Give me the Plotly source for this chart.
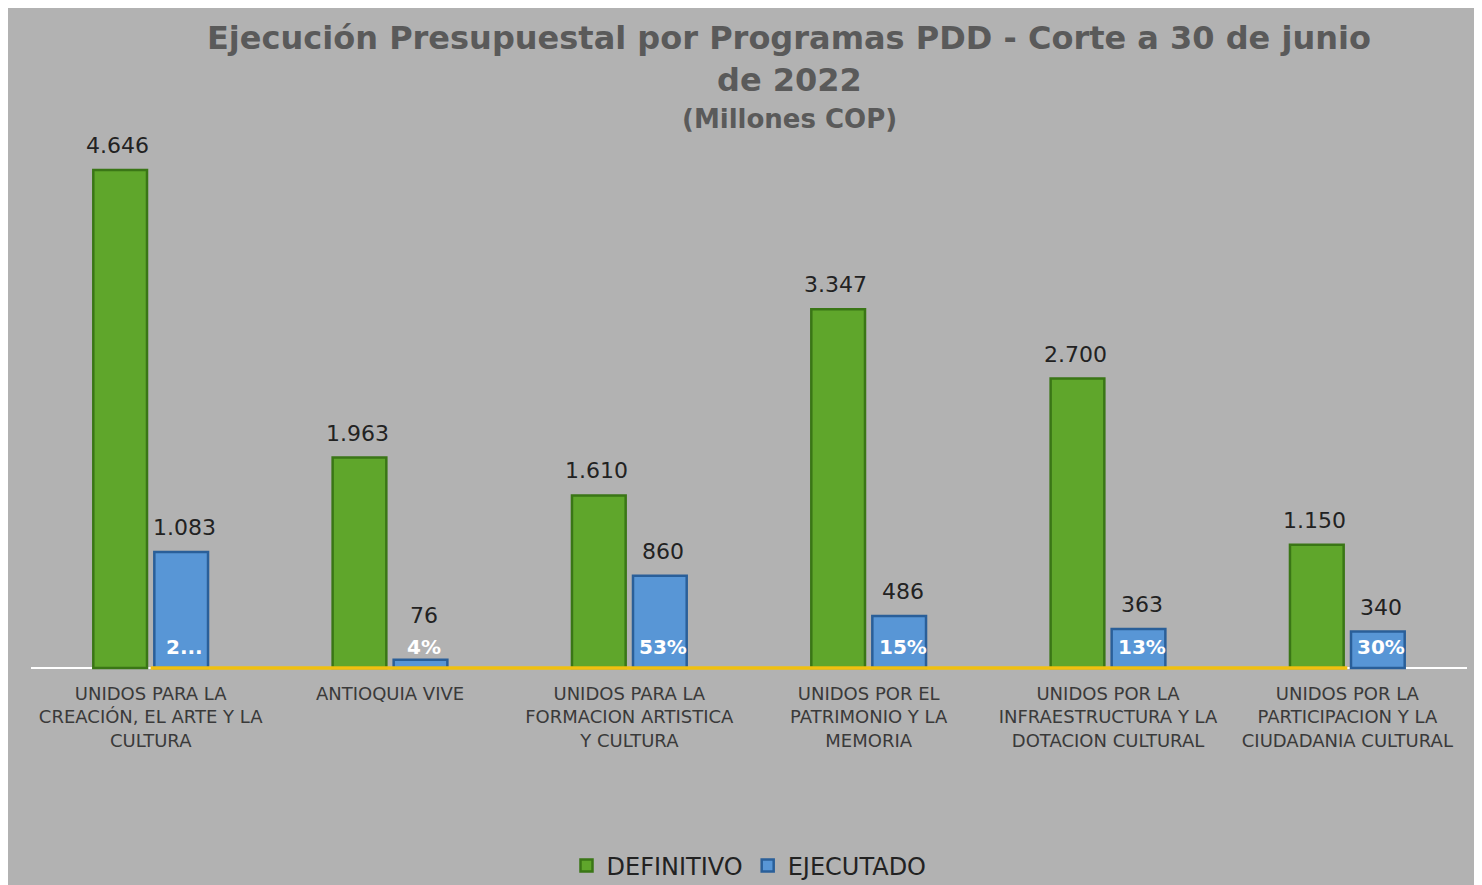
import plotly.graph_objects as go

# Datos (millones COP)
programas = [
    "UNIDOS PARA LA<br>CREACIÓN, EL ARTE Y LA<br>CULTURA",
    "ANTIOQUIA VIVE",
    "UNIDOS PARA LA<br>FORMACION ARTISTICA<br>Y CULTURA",
    "UNIDOS POR EL<br>PATRIMONIO Y LA<br>MEMORIA",
    "UNIDOS POR LA<br>INFRAESTRUCTURA Y LA<br>DOTACION CULTURAL",
    "UNIDOS POR LA<br>PARTICIPACION Y LA<br>CIUDADANIA CULTURAL",
]
definitivo = [4646, 1963, 1610, 3347, 2700, 1150]
ejecutado = [1083, 76, 860, 486, 363, 340]
pct_ejecucion = [0.23, 0.04, 0.53, 0.15, 0.13, 0.30]
pct_labels = ["2...", "4%", "53%", "15%", "13%", "30%"]

BG = "#b2b2b2"
GREEN = "#5fa62b"
GREEN_EDGE = "#3a7616"
BLUE = "#5896d6"
BLUE_EDGE = "#2a5f99"
FONT = "DejaVu Sans"

# plot area in pixels (page adds an 8px body margin)
W, H = 1482, 885
L, R, T, B = 23, 23, 132, 222
PW, PH = W - L - R, H - T - B
YMIN, YMAX = -28, 4925
PX_PER_UNIT = PH / (YMAX - YMIN)


def ypaper(py):
    return (H - B - py) / PH


fig = go.Figure()

fig.add_trace(go.Bar(
    name="DEFINITIVO",
    x=programas,
    y=definitivo,
    marker=dict(color=GREEN, line=dict(color=GREEN_EDGE, width=2.5)),
))
fig.add_trace(go.Bar(
    name="EJECUTADO",
    x=programas,
    y=ejecutado,
    marker=dict(color=BLUE, line=dict(color=BLUE_EDGE, width=2.5)),
))
# % de ejecución (queda pegado al eje)
fig.add_trace(go.Scatter(
    x=programas,
    y=pct_ejecucion,
    mode="lines",
    line=dict(color="#f0c010", width=3.5),
    showlegend=False,
    hoverinfo="skip",
))

annotations = []
for prog, d, e, lab in zip(programas, definitivo, ejecutado, pct_labels):
    for val, dx in ((d, -33), (e, 34)):
        lift = max(10, 38 - val * PX_PER_UNIT)
        annotations.append(dict(
            x=prog, y=val, xref="x", yref="y", text=f"{val:,}".replace(",", "."),
            xshift=dx, yshift=lift, yanchor="bottom", showarrow=False,
            font=dict(size=22, color="#222222", family=FONT),
        ))
    annotations.append(dict(
        x=prog, y=0, xref="x", yref="y", text=f"<b>{lab}</b>",
        xshift=34, yshift=7, yanchor="bottom", showarrow=False,
        font=dict(size=20, color="white", family=FONT),
    ))

title_x = (781 - L) / PW
title_font = dict(size=32, color="#5a5a5a", family=FONT)
annotations += [
    dict(text="<b>Ejecución Presupuestal por Programas PDD - Corte a 30 de junio</b>",
         x=title_x, y=ypaper(30), xref="paper", yref="paper", yanchor="middle",
         showarrow=False, font=title_font),
    dict(text="<b>de 2022</b>",
         x=title_x, y=ypaper(72), xref="paper", yref="paper", yanchor="middle",
         showarrow=False, font=title_font),
    dict(text="<b>(Millones COP)</b>",
         x=title_x, y=ypaper(111), xref="paper", yref="paper", yanchor="middle",
         showarrow=False, font=dict(size=26, color="#5a5a5a", family=FONT)),
]

fig.update_layout(
    width=W, height=H,
    margin=dict(l=L, r=R, t=T, b=B),
    paper_bgcolor=BG,
    plot_bgcolor=BG,
    barmode="group",
    bargap=0.49,
    bargroupgap=0.12,
    annotations=annotations,
    showlegend=True,
    legend=dict(
        orientation="h", x=0.5, xanchor="center",
        yref="container", y=1 - 858 / H, yanchor="middle",
        font=dict(size=24, color="#222222", family=FONT),
        bgcolor="rgba(0,0,0,0)",
    ),
    xaxis=dict(
        showline=False, showgrid=False, ticks="", ticklabelstandoff=10,
        tickfont=dict(size=18, color="#3a3a3a", family=FONT),
    ),
    yaxis=dict(
        range=[YMIN, YMAX], showticklabels=False, showgrid=False, showline=False,
        ticks="", zeroline=True, zerolinecolor="white", zerolinewidth=2,
    ),
)

fig.write_html("out.html")
